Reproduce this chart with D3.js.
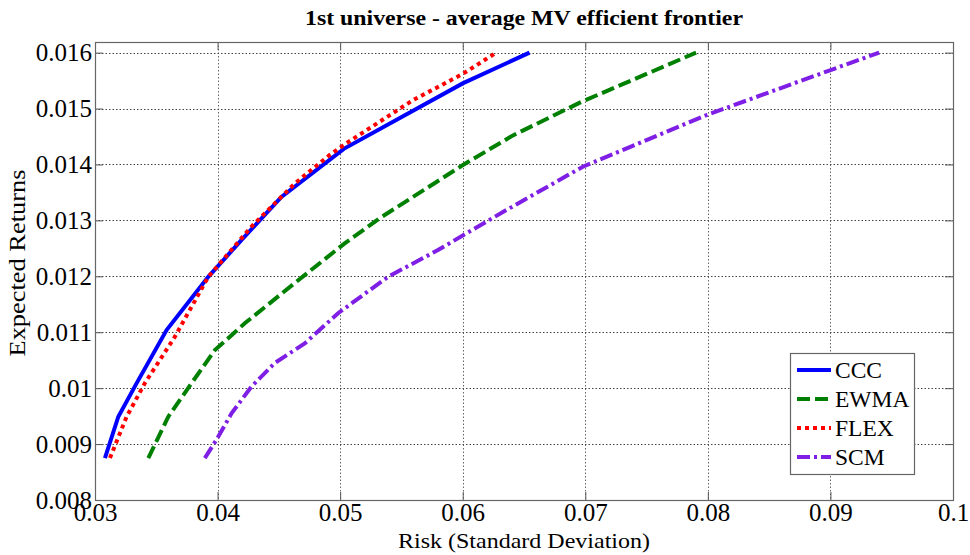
<!DOCTYPE html>
<html>
<head>
<meta charset="utf-8">
<script src="https://cdn.jsdelivr.net/npm/d3@7"></script>
<style>
  html, body { margin: 0; padding: 0; background: #fff; }
</style>
</head>
<body>
<div id="chart"></div>
<script>
// Series: [risk, expected return]
const ccc  = [[0.03081,0.00875],[0.0319,0.00949],[0.0334,0.01009],[0.03584,0.01104],[0.03924,0.01199],
              [0.04196,0.01265],[0.04521,0.01342],[0.0503,0.01428],[0.0600,0.01545],[0.06545,0.0160]];
const ewma = [[0.03435,0.00875],[0.03598,0.00949],[0.03788,0.01009],[0.03978,0.01068],[0.04222,0.01116],
              [0.0463,0.01188],[0.05037,0.01259],[0.05323,0.01304],[0.06002,0.01399],[0.0641,0.01452],
              [0.0697,0.01512],[0.07904,0.0160]];
const flex = [[0.03122,0.00875],[0.03258,0.00949],[0.03407,0.01009],[0.03652,0.01092],[0.03924,0.01199],
              [0.04277,0.01289],[0.0463,0.01366],[0.04915,0.01417],[0.05051,0.01438],[0.05594,0.01515],
              [0.06001,0.01562],[0.06274,0.0160]];
const scm  = [[0.03896,0.00875],[0.03992,0.00908],[0.04114,0.00955],[0.04277,0.01003],[0.04467,0.01045],
              [0.04711,0.0108],[0.04983,0.01134],[0.0539,0.01199],[0.05798,0.01247],[0.06328,0.01315],
              [0.0698,0.01396],[0.07985,0.01488],[0.0899,0.01568],[0.09398,0.0160]];

const seriesNames = ['CCC', 'EWMA', 'FLEX', 'SCM'];
const xTicks = [0.03, 0.04, 0.05, 0.06, 0.07, 0.08, 0.09, 0.1];
const yTicks = [0.008, 0.009, 0.01, 0.011, 0.012, 0.013, 0.014, 0.015, 0.016];
const xTickLabels = ['0.03', '0.04', '0.05', '0.06', '0.07', '0.08', '0.09', '0.1'];
const yTickLabels = ['0.008', '0.009', '0.01', '0.011', '0.012', '0.013', '0.014', '0.015', '0.016'];

const W = 970, H = 555;
const box = { left: 95, right: 953, top: 42, bottom: 500 };
const SERIF = '"Liberation Serif", "Times New Roman", Times, serif';

// line look per series (width 4px, matlab-ish dash patterns)
const styles = {
  CCC:  { color: '#0000ff', dash: null },
  EWMA: { color: '#008000', dash: '13,5' },
  FLEX: { color: '#ff0000', dash: '4,4' },
  SCM:  { color: '#7f1fe6', dash: '13,4,3,4' }
};
const dataBy = { CCC: ccc, EWMA: ewma, FLEX: flex, SCM: scm };

const svg = d3.select('#chart').append('svg')
  .attr('width', W).attr('height', H);

const x = d3.scaleLinear().domain([0.03, 0.1]).range([box.left, box.right]);
const y = d3.scaleLinear().domain([0.008, 0.01619]).range([box.bottom, box.top]);

// grid
const grid = svg.append('g').attr('class', 'grid')
  .attr('stroke', '#444').attr('stroke-width', 1).attr('stroke-dasharray', '1.5,2');
grid.selectAll('line.v').data(xTicks.slice(1, -1)).enter().append('line')
  .attr('x1', d => Math.round(x(d)) + 0.5).attr('x2', d => Math.round(x(d)) + 0.5)
  .attr('y1', box.top).attr('y2', box.bottom).attr('stroke', '#666');
grid.selectAll('line.h').data(yTicks.slice(1)).enter().append('line')
  .attr('y1', d => Math.round(y(d)) + 0.5).attr('y2', d => Math.round(y(d)) + 0.5)
  .attr('x1', box.left).attr('x2', box.right);

// axes: d3 axes with inward ticks, mirrored on top/right
const tickLen = 8;
const fmtX = (d, i) => xTickLabels[i];
const fmtY = (d, i) => yTickLabels[i];

function styleAxis(g) {
  g.attr('font-family', null).attr('font-size', null);
  g.select('.domain').remove();
  g.selectAll('.tick line').attr('stroke', '#555');
  g.selectAll('.tick text').attr('fill', '#000').style('font-size', '25px');
}

svg.append('g').attr('transform', `translate(0,${box.bottom})`)
  .call(d3.axisBottom(x).tickValues(xTicks).tickFormat(fmtX).tickSizeInner(-tickLen).tickPadding(3))
  .call(styleAxis);
svg.append('g').attr('transform', `translate(0,${box.top})`)
  .call(d3.axisTop(x).tickValues(xTicks).tickFormat('').tickSizeInner(-tickLen))
  .call(styleAxis);
svg.append('g').attr('transform', `translate(${box.left},0)`)
  .call(d3.axisLeft(y).tickValues(yTicks).tickFormat(fmtY).tickSizeInner(-tickLen).tickPadding(3))
  .call(styleAxis);
svg.append('g').attr('transform', `translate(${box.right},0)`)
  .call(d3.axisRight(y).tickValues(yTicks).tickFormat('').tickSizeInner(-tickLen))
  .call(styleAxis);

svg.append('rect')
  .attr('x', box.left + 0.5).attr('y', box.top + 0.5)
  .attr('width', box.right - box.left).attr('height', box.bottom - box.top)
  .attr('fill', 'none').attr('stroke', '#666').attr('stroke-width', 1.2);

// curves
const line = d3.line().x(d => x(d[0])).y(d => y(d[1]));
svg.append('g').selectAll('path').data(seriesNames).enter().append('path')
  .attr('d', n => line(dataBy[n]))
  .attr('fill', 'none')
  .attr('stroke', n => styles[n].color)
  .attr('stroke-width', 4)
  .attr('stroke-dasharray', n => styles[n].dash);

// titles (the original font is a bit wider than Times, so pin the lengths)
svg.append('text').attr('x', (box.left + box.right) / 2).attr('y', 25)
  .attr('text-anchor', 'middle').attr('font-weight', 'bold').style('font-size', '21px')
  .attr('textLength', 438).attr('lengthAdjust', 'spacingAndGlyphs')
  .text('1st universe - average MV efficient frontier');
svg.append('text').attr('x', (box.left + box.right) / 2).attr('y', 548)
  .attr('text-anchor', 'middle').style('font-size', '22px')
  .attr('textLength', 252).attr('lengthAdjust', 'spacingAndGlyphs')
  .text('Risk (Standard Deviation)');
svg.append('text')
  .attr('transform', `translate(25,${(box.top + box.bottom) / 2 - 8}) rotate(-90)`)
  .attr('text-anchor', 'middle').style('font-size', '23px')
  .attr('textLength', 187).attr('lengthAdjust', 'spacingAndGlyphs')
  .text('Expected Returns');

// legend
const lg = svg.append('g').attr('transform', 'translate(790,353)');
lg.append('rect').attr('x', 0.5).attr('y', 0.5).attr('width', 124).attr('height', 121)
  .attr('fill', '#fff').attr('stroke', '#666').attr('stroke-width', 1.2);
const item = lg.selectAll('g.item').data(seriesNames).enter().append('g')
  .attr('transform', (d, i) => `translate(0,${17 + i * 29})`);
item.append('line').attr('x1', 7).attr('x2', 41).attr('y1', 0).attr('y2', 0)
  .attr('stroke', n => styles[n].color).attr('stroke-width', 4)
  .attr('stroke-dasharray', n => styles[n].dash);
item.append('text').attr('x', 45).attr('y', 8).style('font-size', '23.5px').text(n => n);

// one serif face for every label
svg.selectAll('text').attr('font-family', SERIF).style('font-family', SERIF);
</script>
</body>
</html>
